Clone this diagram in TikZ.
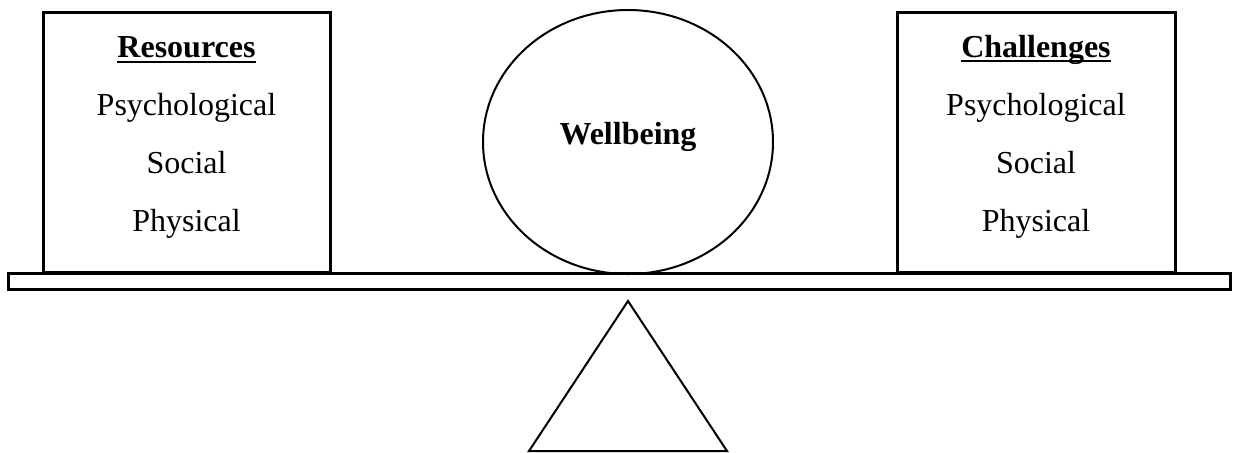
\documentclass[tikz,border=0pt]{standalone}
\usepackage{fontspec}
\setmainfont{Liberation Serif}
\usepackage{tikz}
\usetikzlibrary{shapes.geometric}
\tikzset{
  pan/.style={
    rectangle, draw, line width=1.5pt, fill=white,
    minimum height=130pt, inner sep=0pt
  },
  heading/.style={anchor=base, inner sep=0pt, font=\fontsize{16}{19}\selectfont\bfseries},
  item/.style={anchor=base, font=\fontsize{16}{19}\selectfont},
  beam/.style={draw, line width=1.5pt, fill=white},
  rule/.style={line width=1pt},
}

\begin{document}
\begin{tikzpicture}[x=0.5pt, y=-0.5pt]
  \useasboundingbox (0,0) rectangle (1233,452);

  % Beam and pivot
  \draw[beam] (8,273) rectangle (1230,289);
  \draw[line width=1pt] (628,301) -- (727,451) -- (529,451) -- cycle;

  % Wellbeing
  \node[ellipse, draw, line width=1pt, minimum width=145pt, minimum height=132pt,
    inner sep=0pt] (wb) at (628,142) {};
  \node[heading] (wbtext) at (628,144) {Wellbeing};

  % Resources
  \node[pan, minimum width=143.5pt] (res) at (186.5,142.5) {};
  \node[heading] (reshead) at (186.5,57) {Resources};
  \draw[rule] ([yshift=-2.3pt]reshead.base west) -- ([yshift=-2.3pt]reshead.base east);
  \foreach \t [count=\i] in {Psychological, Social, Physical} {
    \node[item] (res-\i) at (186.5, 57+58*\i) {\t};
  }

  % Challenges
  \node[pan, minimum width=139pt] (chal) at (1036,142.5) {};
  \node[heading] (chalhead) at (1036,57) {Challenges};
  \draw[rule] ([yshift=-1.8pt]chalhead.base west) -- ([yshift=-1.8pt]chalhead.base east);
  \foreach \t [count=\i] in {Psychological, Social, Physical} {
    \node[item] (chal-\i) at (1036, 57+58*\i) {\t};
  }

\end{tikzpicture}
\end{document}
